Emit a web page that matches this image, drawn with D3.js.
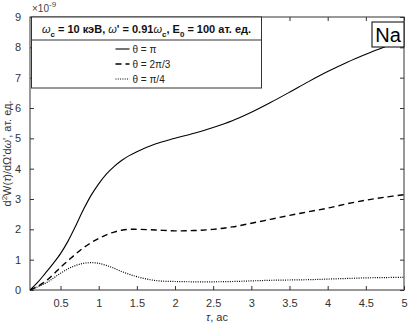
<!DOCTYPE html>
<html>
<head>
<meta charset="utf-8">
<script src="https://cdn.jsdelivr.net/npm/d3@7"></script>
<style>
  body { margin: 0; background: #fff; }
  svg { display: block; font-family: "Liberation Sans", Arial, sans-serif; }
</style>
</head>
<body>
<div id="chart"></div>
<script>
// tau, as
const tau = [0.1, 0.2, 0.3, 0.4, 0.5, 0.6, 0.7, 0.8, 0.9, 1.0, 1.1, 1.2, 1.3, 1.4, 1.5,
  1.75, 2.0, 2.25, 2.5, 2.75, 3.0, 3.25, 3.5, 3.75, 4.0, 4.25, 4.5, 4.75, 5.0]

// values in units of 1e-9
const thetaPi = [0, 0.25, 0.55, 0.86, 1.2, 1.62, 2.12, 2.65, 3.12, 3.5, 3.82, 4.07, 4.27, 4.43, 4.56,
  4.82, 5.0, 5.17, 5.36, 5.58, 5.86, 6.18, 6.52, 6.87, 7.2, 7.5, 7.77, 8.02, 8.28]
const theta2Pi3 = [0, 0.12, 0.28, 0.5, 0.75, 0.97, 1.19, 1.39, 1.56, 1.7, 1.82, 1.91, 1.97, 2.0, 2.0,
  1.98, 1.95, 1.96, 2.0, 2.08, 2.2, 2.33, 2.46, 2.58, 2.7, 2.84, 2.96, 3.06, 3.14]
const thetaPi4 = [0, 0.1, 0.22, 0.38, 0.55, 0.7, 0.81, 0.88, 0.9, 0.88, 0.81, 0.72, 0.61, 0.52, 0.44,
  0.31, 0.28, 0.27, 0.27, 0.28, 0.3, 0.32, 0.33, 0.34, 0.36, 0.38, 0.4, 0.41, 0.42]

const seriesNames = ['θ = π', 'θ = 2π/3', 'θ = π/4']
const xTicks = [0.5, 1, 1.5, 2, 2.5, 3, 3.5, 4, 4.5, 5]
const yTicks = [0, 1, 2, 3, 4, 5, 6, 7, 8, 9]

const W = 414, H = 327
const margin = { top: 17, right: 10, bottom: 37, left: 30 }
const width = W - margin.left - margin.right
const height = H - margin.top - margin.bottom

const svg = d3.select('#chart').append('svg')
  .attr('width', W).attr('height', H)

const g = svg.append('g')
  .attr('transform', 'translate(' + margin.left + ',' + margin.top + ')')

const x = d3.scaleLinear().domain([0.1, 5]).range([0, width])
const y = d3.scaleLinear().domain([0, 9]).range([height, 0])

const axisColor = '#333'

// axes with inward ticks (matlab box)
function styleAxis(sel) {
  sel.select('.domain').remove()
  sel.selectAll('line').attr('stroke', axisColor)
  sel.selectAll('text').attr('fill', '#333').style('font-size', '11px')
}
g.append('g').attr('transform', 'translate(0,' + height + ')')
  .call(d3.axisBottom(x).tickValues(xTicks).tickSize(-4).tickPadding(9).tickFormat(d3.format('')))
  .call(styleAxis)
g.append('g')
  .call(d3.axisTop(x).tickValues(xTicks).tickSize(-4).tickFormat(''))
  .call(styleAxis)
g.append('g')
  .call(d3.axisLeft(y).tickValues(yTicks).tickSize(-4).tickPadding(9))
  .call(styleAxis)
g.append('g').attr('transform', 'translate(' + width + ',0)')
  .call(d3.axisRight(y).tickValues(yTicks).tickSize(-4).tickFormat(''))
  .call(styleAxis)

g.append('rect').attr('width', width).attr('height', height)
  .attr('fill', 'none').attr('stroke', axisColor).attr('stroke-width', 1)

g.append('clipPath').attr('id', 'clip').append('rect')
  .attr('width', width).attr('height', height)

const line = d3.line()
  .x((d, i) => x(tau[i]))
  .y(d => y(d))
  .curve(d3.curveCatmullRom.alpha(0.5))

const series = [
  { values: thetaPi, dash: null, w: 1.1 },
  { values: theta2Pi3, dash: '6,4', w: 1.4 },
  { values: thetaPi4, dash: '1,1.3', w: 1.2 }
]

g.append('g').attr('clip-path', 'url(#clip)')
  .selectAll('path').data(series).enter().append('path')
  .attr('d', d => line(d.values))
  .attr('fill', 'none')
  .attr('stroke', '#000')
  .attr('stroke-width', d => d.w)
  .attr('stroke-dasharray', d => d.dash)

// legend
const lg = g.append('g').attr('transform', 'translate(1.5,0)')
lg.append('rect').attr('width', 230).attr('height', 71)
  .attr('fill', '#fff').attr('stroke', '#333').attr('stroke-width', 1)
lg.append('line').attr('x1', 0).attr('x2', 230).attr('y1', 23).attr('y2', 23)
  .attr('stroke', '#333')
const title = lg.append('text').attr('x', 115).attr('y', 16)
  .attr('text-anchor', 'middle').style('font-size', '11px').style('font-weight', 'bold')
  .attr('fill', '#111')
title.append('tspan').text('ω').style('font-style', 'italic').style('font-weight', 'normal')
title.append('tspan').text('c').attr('dy', 4).style('font-size', '8px')
title.append('tspan').text(' = 10 кэВ, ').attr('dy', -4)
title.append('tspan').text('ω').style('font-style', 'italic').style('font-weight', 'normal')
title.append('tspan').text("' = 0.91")
title.append('tspan').text('ω').style('font-style', 'italic').style('font-weight', 'normal')
title.append('tspan').text('c').attr('dy', 4).style('font-size', '8px')
title.append('tspan').text(', E').attr('dy', -4)
title.append('tspan').text('0').attr('dy', 4).style('font-size', '8px')
title.append('tspan').text(' = 100 ат. ед.').attr('dy', -4)

const rows = lg.selectAll('.row').data(series).enter().append('g')
  .attr('class', 'row')
  .attr('transform', (d, i) => 'translate(84,' + (32 + i * 15) + ')')
rows.append('line').attr('x1', 0).attr('x2', 14)
  .attr('stroke', '#000').attr('stroke-width', d => d.w)
  .attr('stroke-dasharray', d => d.dash)
rows.append('text').attr('x', 17).attr('y', 4)
  .style('font-size', '10px').attr('fill', '#222')
  .text((d, i) => seriesNames[i])

// Na box
const na = g.append('g').attr('transform', 'translate(' + (width - 32) + ',5)')
na.append('rect').attr('width', 32).attr('height', 25)
  .attr('fill', '#fff').attr('stroke', '#000')
na.append('text').attr('x', 16).attr('y', 20).attr('text-anchor', 'middle')
  .style('font-size', '20px').attr('fill', '#000').text('Na')

// exponent label
const ex = svg.append('text').attr('x', margin.left + 2).attr('y', 12)
  .style('font-size', '10px').attr('fill', '#444')
ex.append('tspan').text('×10')
ex.append('tspan').text('-9').attr('dy', -5).style('font-size', '8px')

// axis labels
const xl = svg.append('text').attr('x', margin.left + width / 2).attr('y', 321)
  .attr('text-anchor', 'middle').style('font-size', '11px').attr('fill', '#333')
xl.append('tspan').text('τ').style('font-style', 'italic')
xl.append('tspan').text(', ас')

const yl = svg.append('text')
  .attr('transform', 'translate(11,' + (margin.top + height / 2) + ') rotate(-90)')
  .attr('text-anchor', 'middle').style('font-size', '11px').attr('fill', '#333')
yl.append('tspan').text('d')
yl.append('tspan').text('2').attr('dy', -4).style('font-size', '8px')
yl.append('tspan').text('W(').attr('dy', 4)
yl.append('tspan').text('τ').style('font-style', 'italic')
yl.append('tspan').text(")/dΩ'd")
yl.append('tspan').text('ω').style('font-style', 'italic')
yl.append('tspan').text("', ат. ед.")
</script>
</body>
</html>
